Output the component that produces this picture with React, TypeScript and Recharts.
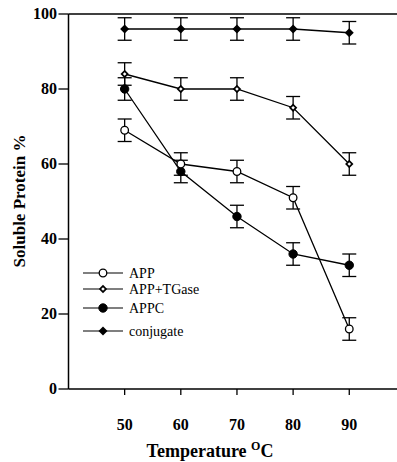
import React from "react";
import {
  LineChart,
  Line,
  XAxis,
  YAxis,
  ErrorBar,
  ReferenceLine,
  Label,
} from "recharts";

const temps = [50, 60, 70, 80, 90];
const appValues = [69, 60, 58, 51, 16];
const appErrors = [3, 3, 3, 3, 3];
const tgaseValues = [84, 80, 80, 75, 60];
const tgaseErrors = [3, 3, 3, 3, 3];
const appcValues = [80, 58, 46, 36, 33];
const appcErrors = [3, 3, 3, 3, 3];
const conjValues = [96, 96, 96, 96, 95];
const conjErrors = [3, 3, 3, 3, 3];
const yTicks = [0, 20, 40, 60, 80, 100];
const xTicks = [50, 60, 70, 80, 90];
const seriesNames = ["APP", "APP+TGase", "APPC", "conjugate"];

const data = temps.map((t, i) => ({
  t,
  app: appValues[i],
  appErr: appErrors[i],
  tgase: tgaseValues[i],
  tgaseErr: tgaseErrors[i],
  appc: appcValues[i],
  appcErr: appcErrors[i],
  conj: conjValues[i],
  conjErr: conjErrors[i],
}));

const serif = { fontFamily: "'Liberation Serif', 'Times New Roman', serif" };

const OpenCircle = (props: any) => {
  const { cx, cy } = props;
  if (cx == null || cy == null) return null;
  return <circle cx={cx} cy={cy} r={3.8} fill="#fff" stroke="#000" strokeWidth={1.3} />;
};

const FilledCircle = (props: any) => {
  const { cx, cy } = props;
  if (cx == null || cy == null) return null;
  return <circle cx={cx} cy={cy} r={4.2} fill="#000" stroke="#000" strokeWidth={1} />;
};

const diamondPath = (cx: number, cy: number, r: number) =>
  `M${cx},${cy - r} L${cx + r},${cy} L${cx},${cy + r} L${cx - r},${cy} Z`;

const HollowDiamond = (props: any) => {
  const { cx, cy } = props;
  if (cx == null || cy == null) return null;
  return (
    <g>
      <path d={diamondPath(cx, cy, 4.2)} fill="#000" />
      <path d={diamondPath(cx, cy, 1.8)} fill="#fff" />
    </g>
  );
};

const SolidDiamond = (props: any) => {
  const { cx, cy } = props;
  if (cx == null || cy == null) return null;
  return <path d={diamondPath(cx, cy, 4.5)} fill="#000" />;
};

const markers = [OpenCircle, HollowDiamond, FilledCircle, SolidDiamond];
const legendRows = [273, 289, 308, 331];

const YTick = (props: any) => {
  const { y, payload } = props;
  return (
    <text x={57} y={y + 5} textAnchor="end" style={{ ...serif, fontWeight: "bold", fontSize: 16 }} fill="#000">
      {payload.value}
    </text>
  );
};

const XTick = (props: any) => {
  const { x, payload } = props;
  return (
    <text x={x} y={430} textAnchor="middle" style={{ ...serif, fontWeight: "bold", fontSize: 16 }} fill="#000">
      {payload.value}
    </text>
  );
};

const YTitle = () => (
  <text
    transform="translate(25,201) rotate(-90)"
    textAnchor="middle"
    style={{ ...serif, fontWeight: "bold", fontSize: 17 }}
    fill="#000"
  >
    Soluble Protein %
  </text>
);

const XTitle = () => (
  <text x={210} y={457} textAnchor="middle" style={{ ...serif, fontWeight: "bold", fontSize: 18 }} fill="#000">
    Temperature{" "}
    <tspan style={{ fontSize: 12 }} dy={-7}>
      O
    </tspan>
    <tspan dy={7}>C</tspan>
  </text>
);

const LegendBlock = () => (
  <g>
    {seriesNames.map((name, i) => {
      const M = markers[i];
      const y = legendRows[i];
      return (
        <g key={name}>
          <line x1={83} x2={123} y1={y} y2={y} stroke="#000" strokeWidth={1.2} />
          <M cx={103} cy={y} />
          <text x={129} y={y + 5} style={{ ...serif, fontSize: 14 }} fill="#000">
            {name}
          </text>
        </g>
      );
    })}
  </g>
);

export default function App() {
  return (
    <div style={{ position: "absolute", left: 0, top: 0 }}>
      <LineChart
        width={397}
        height={462}
        data={data}
        margin={{ top: 14, right: 0, bottom: 0, left: 0 }}
      >
        <XAxis
          dataKey="t"
          type="number"
          domain={[40, 98.5]}
          ticks={xTicks}
          height={73}
          axisLine={{ stroke: "#000", strokeWidth: 1.5 }}
          tickLine={{ stroke: "#000", strokeWidth: 1.3 }}
          tickSize={6}
          tick={<XTick />}
          allowDataOverflow
        >
          <Label content={<XTitle />} />
        </XAxis>
        <YAxis
          domain={[0, 100]}
          ticks={yTicks}
          width={68.5}
          axisLine={{ stroke: "#000", strokeWidth: 1.5 }}
          tickLine={{ stroke: "#000", strokeWidth: 1.3 }}
          tickSize={10}
          tick={<YTick />}
        >
          <Label content={<YTitle />} />
        </YAxis>
        <ReferenceLine y={100} stroke="#000" strokeWidth={1.5} />
        <Line dataKey="conj" stroke="#000" strokeWidth={1.3} dot={<SolidDiamond />} isAnimationActive={false}>
          <ErrorBar dataKey="conjErr" width={7} stroke="#000" strokeWidth={1.3} direction="y" />
        </Line>
        <Line dataKey="tgase" stroke="#000" strokeWidth={1.3} dot={<HollowDiamond />} isAnimationActive={false}>
          <ErrorBar dataKey="tgaseErr" width={7} stroke="#000" strokeWidth={1.3} direction="y" />
        </Line>
        <Line dataKey="appc" stroke="#000" strokeWidth={1.3} dot={<FilledCircle />} isAnimationActive={false}>
          <ErrorBar dataKey="appcErr" width={7} stroke="#000" strokeWidth={1.3} direction="y" />
        </Line>
        <Line dataKey="app" stroke="#000" strokeWidth={1.3} dot={<OpenCircle />} isAnimationActive={false}>
          <ErrorBar dataKey="appErr" width={7} stroke="#000" strokeWidth={1.3} direction="y" />
        </Line>
        <LegendBlock />
      </LineChart>
    </div>
  );
}
